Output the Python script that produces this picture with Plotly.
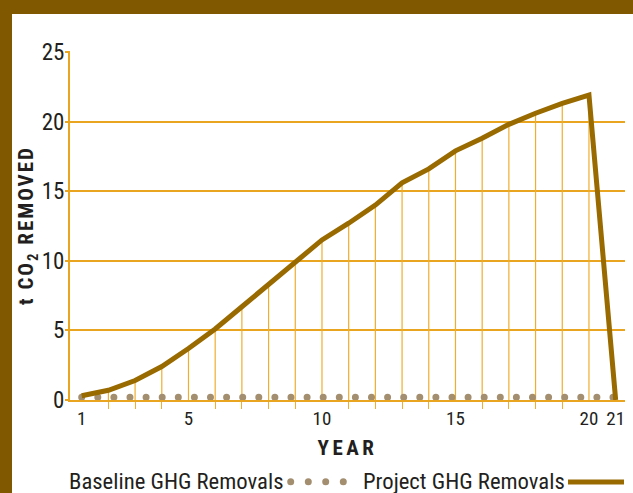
import plotly.graph_objects as go

# ---------------- data ----------------
years = [1, 2, 3, 4, 5, 6, 7, 8, 9, 10, 11, 12, 13, 14, 15, 16, 17, 18, 19, 20, 21]
project_removals = [0.3, 0.7, 1.4, 2.4, 3.7, 5.1, 6.7, 8.3, 9.9, 11.5, 12.7,
                    14.0, 15.6, 16.6, 17.9, 18.8, 19.8, 20.6, 21.3, 21.9, 0.0]
baseline_removals = [0.2, 0.2, 0.2, 0.2, 0.2, 0.2, 0.2, 0.2, 0.2, 0.2, 0.2,
                     0.2, 0.2, 0.2, 0.2, 0.2, 0.2, 0.2, 0.2, 0.2, 0.2]
x_tick_vals = [1, 5, 10, 15, 20, 21]
x_tick_text = ["1", "5", "10", "15", "20", "21"]
y_tick_vals = [0, 5, 10, 15, 20, 25]
series_names = ["Baseline GHG Removals", "Project GHG Removals"]

# ---------------- style ----------------
W, H = 633, 493
ML, MR, MT, MB = 70, 8, 51, 93
FRAME = "#7f5800"
GRID = "#e9a420"
DROP = "#efae2e"
PROJ = "#986a00"
DOT = "#a38f70"
TXT = "#231f20"
FONT = "Roboto Condensed, DejaVu Sans Condensed, sans-serif"

PW = W - ML - MR
PH = H - MT - MB


def px_x(p):
    return (p - ML) / PW


def px_y(p):
    return (H - MB - p) / PH


# drop lines from each project point down to the axis
drop_x, drop_y = [], []
for xv, yv in zip(years, project_removals):
    if yv > 0:
        drop_x += [xv, xv, None]
        drop_y += [0, yv, None]

fig = go.Figure()
fig.add_trace(go.Scatter(x=drop_x, y=drop_y, mode="lines",
                         line=dict(color=DROP, width=1.2), hoverinfo="skip",
                         showlegend=False))
fig.add_trace(go.Scatter(x=years, y=baseline_removals, mode="lines",
                         name=series_names[0],
                         line=dict(color=DOT, width=7, dash="0px,16px"),
                         showlegend=False))
fig.add_trace(go.Scatter(x=years, y=project_removals, mode="lines",
                         name=series_names[1],
                         line=dict(color=PROJ, width=5),
                         showlegend=False))

minor_years = [y for y in years if y not in x_tick_vals]

fig.update_layout(
    width=W, height=H,
    margin=dict(l=ML, r=MR, t=MT, b=MB, pad=0),
    paper_bgcolor="white", plot_bgcolor="white",
    font=dict(family=FONT, color=TXT),
    xaxis=dict(
        range=[0.562, 21.35], showgrid=False, zeroline=False,
        showline=True, linecolor=GRID, linewidth=2,
        tickmode="array", tickvals=x_tick_vals, ticktext=x_tick_text,
        ticks="", tickfont=dict(size=19, color=TXT), ticklabelstandoff=0,
        minor=dict(tickmode="array", tickvals=minor_years, ticks="outside",
                   ticklen=7, tickwidth=1, tickcolor=DROP),
        title=dict(text="<b>YEAR</b>", font=dict(size=21, color=TXT), standoff=12),
    ),
    yaxis=dict(
        range=[0, 25.07], showgrid=True, gridcolor=GRID, gridwidth=2,
        zeroline=False, showline=True, linecolor=GRID, linewidth=2,
        tickmode="array", tickvals=y_tick_vals,
        ticks="outside", ticklen=3, tickwidth=2, tickcolor=GRID,
        tickfont=dict(size=23, color=TXT), ticklabelstandoff=-4,
        title=dict(text="<b>t CO<sub>2</sub> REMOVED</b>",
                   font=dict(size=21, color=TXT), standoff=0),
    ),
)

shapes = [
    # frame: top and left bars
    dict(type="rect", xref="paper", yref="paper", x0=px_x(0), x1=px_x(W),
         y0=px_y(14), y1=px_y(0), fillcolor=FRAME, line=dict(width=0)),
    dict(type="rect", xref="paper", yref="paper", x0=px_x(0), x1=px_x(12),
         y0=px_y(H), y1=px_y(0), fillcolor=FRAME, line=dict(width=0)),
    # legend line for project
    dict(type="line", xref="paper", yref="paper", x0=px_x(568), x1=px_x(624),
         y0=px_y(482), y1=px_y(482), line=dict(color=PROJ, width=5)),
]
for cx in [290.7, 308.3, 325.7, 343.3]:
    r = 3.5
    shapes.append(dict(type="circle", xref="paper", yref="paper",
                       x0=px_x(cx - r), x1=px_x(cx + r),
                       y0=px_y(481.7 + r), y1=px_y(481.7 - r),
                       fillcolor=DOT, line=dict(width=0)))
fig.update_layout(shapes=shapes)

fig.add_annotation(text=series_names[0], xref="paper", yref="paper",
                   x=px_x(67), y=px_y(481), xanchor="left", yanchor="middle",
                   showarrow=False, font=dict(size=22.7, color=TXT))
fig.add_annotation(text=series_names[1], xref="paper", yref="paper",
                   x=px_x(360.5), y=px_y(481), xanchor="left", yanchor="middle",
                   showarrow=False, font=dict(size=22.7, color=TXT))

post = """
document.body.style.margin = '0';
var st = document.createElement('style');
st.textContent = '.scatterlayer .trace:nth-child(2) path.js-line{stroke-linecap:round !important; stroke-dasharray:0 16.1px !important;}' +
  ' text.ytitle{letter-spacing:2px;} text.xtitle{letter-spacing:3.5px;}';
document.head.appendChild(st);
"""

fig.write_html("out.html", post_script=post, config={"displayModeBar": False})
